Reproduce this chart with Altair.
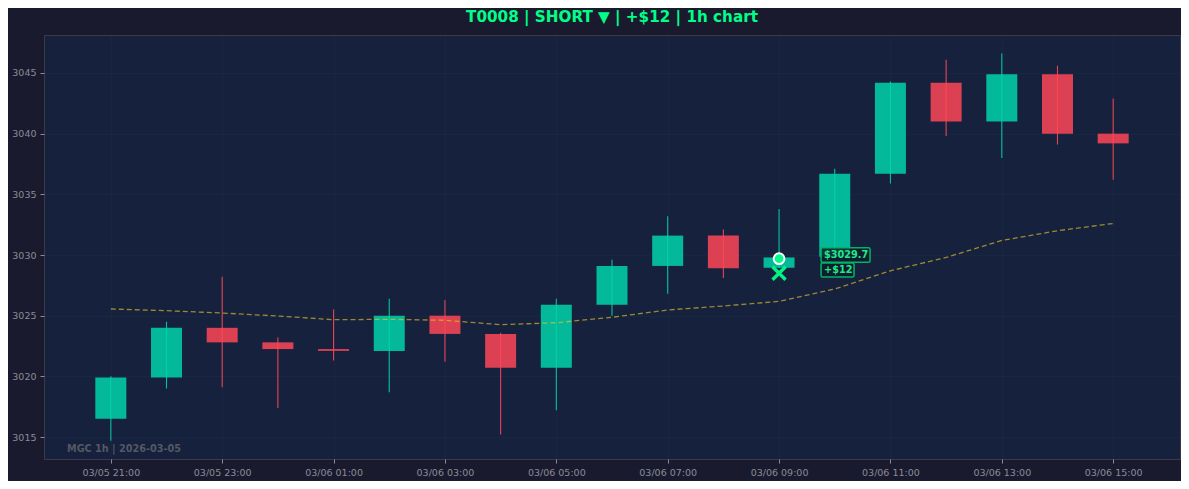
import altair as alt
import pandas as pd

# ---------------- data ----------------
times = [
    "2026-03-05T21:00:00", "2026-03-05T22:00:00", "2026-03-05T23:00:00",
    "2026-03-06T00:00:00", "2026-03-06T01:00:00", "2026-03-06T02:00:00",
    "2026-03-06T03:00:00", "2026-03-06T04:00:00", "2026-03-06T05:00:00",
    "2026-03-06T06:00:00", "2026-03-06T07:00:00", "2026-03-06T08:00:00",
    "2026-03-06T09:00:00", "2026-03-06T10:00:00", "2026-03-06T11:00:00",
    "2026-03-06T12:00:00", "2026-03-06T13:00:00", "2026-03-06T14:00:00",
    "2026-03-06T15:00:00",
]
opens = [3016.5, 3019.9, 3024.0, 3022.8, 3022.25, 3022.1, 3025.0, 3023.5, 3020.7,
         3025.9, 3029.1, 3031.6, 3028.95, 3029.85, 3036.7, 3044.2, 3041.0, 3044.9, 3040.0]
closes = [3019.9, 3024.0, 3022.8, 3022.25, 3022.1, 3025.0, 3023.5, 3020.7, 3025.9,
          3029.1, 3031.6, 3028.9, 3029.8, 3036.7, 3044.2, 3041.0, 3044.9, 3040.0, 3039.2]
highs = [3020.0, 3024.5, 3028.2, 3023.2, 3025.5, 3026.4, 3026.3, 3023.6, 3026.4,
         3029.6, 3033.2, 3032.1, 3033.8, 3037.1, 3044.3, 3046.1, 3046.6, 3045.6, 3042.9]
lows = [3014.7, 3019.0, 3019.1, 3017.4, 3021.3, 3018.7, 3021.2, 3015.2, 3017.2,
        3025.0, 3026.8, 3028.1, 3028.9, 3029.8, 3035.9, 3039.8, 3038.0, 3039.1, 3036.2]
ema = [3025.55, 3025.41, 3025.22, 3024.97, 3024.67, 3024.70, 3024.62, 3024.26, 3024.42,
       3024.87, 3025.47, 3025.80, 3026.18, 3027.2, 3028.7, 3029.8, 3031.2, 3032.0, 3032.6]

entry_time = "2026-03-06T09:00:00"
entry_price = 3029.7
exit_price = 3028.5
entry_label = "$3029.7"
pnl_label = "+$12"
title_text = "T0008 | SHORT ▼ | +$12 | 1h chart"
watermark_text = "MGC 1h | 2026-03-05"

y_ticks = [3015, 3020, 3025, 3030, 3035, 3040, 3045]
x_tick_hours = [(5, 21), (5, 23), (6, 1), (6, 3), (6, 5), (6, 7), (6, 9), (6, 11), (6, 13), (6, 15)]

GREEN = "#00d4aa"
RED = "#ff4757"
ACCENT = "#00ff88"

df = pd.DataFrame({"t": times, "open": opens, "close": closes, "high": highs,
                   "low": lows, "ema": ema})
df["dir"] = ["up" if c >= o else "down" for o, c in zip(opens, closes)]

trade = pd.DataFrame({"t": [entry_time], "entry": [entry_price], "exit": [exit_price],
                      "lab1": [entry_label], "lab2": [pnl_label]})

x_domain = [alt.DateTime(year=2026, month=3, date=5, hours=19, minutes=48),
            alt.DateTime(year=2026, month=3, date=6, hours=16, minutes=12)]
x_values = [alt.DateTime(year=2026, month=3, date=d, hours=h) for d, h in x_tick_hours]

x_enc = alt.X("t:T", scale=alt.Scale(domain=x_domain, padding=0),
              axis=alt.Axis(values=x_values, format="%m/%d %H:%M", title=None))
y_scale = alt.Scale(domain=[3013.19, 3048.13], nice=False, zero=False, padding=0)
y_axis = alt.Axis(values=y_ticks, title=None, format="d")

color = alt.Color("dir:N", scale=alt.Scale(domain=["up", "down"], range=[GREEN, RED]),
                  legend=None)

base = alt.Chart(df)

bodies = base.mark_bar(size=31, opacity=0.85).encode(
    x=x_enc, y=alt.Y("open:Q", scale=y_scale, axis=y_axis), y2="close:Q", color=color)
wicks = base.mark_rule(strokeWidth=1.1, opacity=0.9).encode(
    x="t:T", y="low:Q", y2="high:Q", color=color)
ema_line = base.mark_line(strokeDash=[5, 3], strokeWidth=1.3, color="#e6c229",
                          opacity=0.65).encode(x="t:T", y="ema:Q")

ROUND_BOX1 = ("M-0.94,-0.296H0.94Q1,-0.296 1,-0.236V0.236Q1,0.296 0.94,0.296"
              "H-0.94Q-1,0.296 -1,0.236V-0.236Q-1,-0.296 -0.94,-0.296Z")
ROUND_BOX2 = ("M-0.91,-0.424H0.91Q1,-0.424 1,-0.334V0.334Q1,0.424 0.91,0.424"
              "H-0.91Q-1,0.424 -1,0.334V-0.334Q-1,-0.424 -0.91,-0.424Z")

tb = alt.Chart(trade)
entry_pt = tb.mark_point(shape="circle", filled=True, size=115, fill=ACCENT,
                         stroke="white", strokeWidth=2, opacity=1).encode(
    x="t:T", y="entry:Q")
exit_pt = tb.mark_point(shape="M-1,-1L1,1M-1,1L1,-1", filled=False, size=170,
                        stroke=ACCENT, strokeWidth=3.4, opacity=0.95).encode(
    x="t:T", y="exit:Q")

box1 = tb.mark_point(shape=ROUND_BOX1, size=2401, filled=True,
                     fill="#0e1c2c", fillOpacity=0.85, stroke="#00b466", strokeWidth=1.5,
                     strokeOpacity=1, xOffset=66.5, yOffset=-3.6).encode(x="t:T", y="entry:Q")
box2 = tb.mark_point(shape=ROUND_BOX2, size=1089, filled=True,
                     fill="#0e1c2c", fillOpacity=0.85, stroke="#00b466", strokeWidth=1.5,
                     strokeOpacity=1, xOffset=58.5, yOffset=11.4).encode(x="t:T", y="entry:Q")
txt1 = tb.mark_text(align="left", baseline="middle", dx=45, dy=-3.6, font="DejaVu Sans",
                    fontSize=9.7, fontWeight="bold", color="#1eea88").encode(
    x="t:T", y="entry:Q", text="lab1:N")
txt2 = tb.mark_text(align="left", baseline="middle", dx=45, dy=11.4, font="DejaVu Sans",
                    fontSize=9.7, fontWeight="bold", color="#1eea88").encode(
    x="t:T", y="entry:Q", text="lab2:N")

wm = alt.Chart(pd.DataFrame({"w": [watermark_text]})).mark_text(
    align="left", baseline="middle", font="DejaVu Sans", fontSize=9.7,
    fontWeight="bold", color="#555862").encode(
    x=alt.value(23), y=alt.value(414), text="w:N")

chart = alt.layer(bodies, wicks, ema_line, box1, box2, entry_pt, exit_pt, txt1, txt2, wm).properties(
    width=1136, height=424,
    title=alt.TitleParams(title_text, anchor="middle", frame="group", font="DejaVu Sans",
                          fontSize=15.2, fontWeight="bold", color=ACCENT,
                          baseline="alphabetic", offset=13, dy=15),
    autosize=alt.AutoSizeParams(type="none"),
    padding={"left": 36, "top": 27, "right": 1, "bottom": 22},
    background="#1a1a2e",
).configure_view(
    fill="#16213e", stroke="#3a3b47", strokeWidth=1
).configure_axis(
    labelFont="DejaVu Sans", labelFontSize=9.5, labelColor="#8a8c96",
    tickColor="#8a8c96", tickSize=4, domain=False,
    grid=True, gridColor="#ffffff", gridOpacity=0.02, labelPadding=4,
)

chart.save("out.html", embed_options={"renderer": "svg", "actions": False})
